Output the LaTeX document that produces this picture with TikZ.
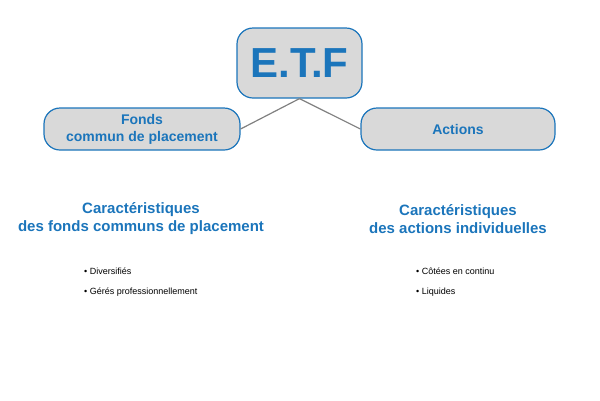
\documentclass[tikz,border=0pt]{standalone}
\usepackage{fontspec}
\setmainfont{Liberation Sans}
\definecolor{bl}{HTML}{1B75BB}
\definecolor{bx}{HTML}{D9D9D9}
\begin{document}
\begin{tikzpicture}[x=1pt,y=-1pt,
 box/.style={draw=bl,fill=bx,line width=1.2pt,rounded corners=16pt,text=bl,font=\bfseries,align=center,inner sep=0pt},
 head/.style={text=bl,font=\fontsize{15}{18}\selectfont\bfseries,align=center},
 item/.style={anchor=west,font=\fontsize{9}{11}\selectfont,inner sep=0pt}]
\useasboundingbox (0,0) rectangle (600,400);
\node[box,minimum width=125pt,minimum height=70pt,font=\fontsize{42}{44}\selectfont\bfseries] (etf) at (299.5,63) {E.T.F};
\node[box,minimum width=196pt,minimum height=42pt,font=\fontsize{14}{17}\selectfont\bfseries] (fcp) at (142,129) {Fonds\\commun de placement};
\node[box,minimum width=194pt,minimum height=42pt,font=\fontsize{14}{17}\selectfont\bfseries] (act) at (458,129) {Actions};
\draw[gray,line width=1.2pt] (etf.south) -- (fcp.east);
\draw[gray,line width=1.2pt] (etf.south) -- (act.west);
\node[head] (h1) at (141,219) {Caractéristiques\\des fonds communs de placement};
\node[head] (h2) at (458,219) {Caractéristiques\\des actions individuelles};
\node[item] (a1) at (84,271) {• Diversifiés};
\node[item] (a2) at (84,292) {• Gérés professionnellement};
\node[item] (b1) at (416,271) {• Côtées en continu};
\node[item] (b2) at (416,292) {• Liquides};
\end{tikzpicture}
\end{document}
